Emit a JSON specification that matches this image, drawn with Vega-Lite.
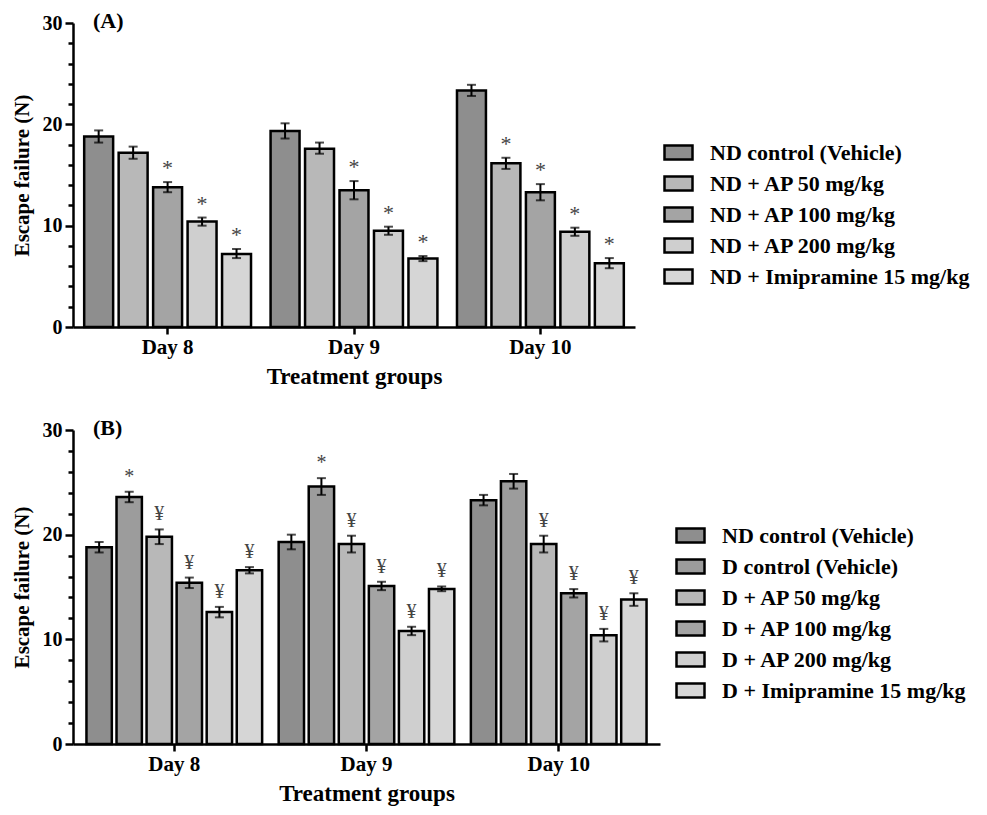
{
  "$schema": "https://vega.github.io/schema/vega-lite/v6.json",
  "background": "white",
  "padding": {"left": 11, "top": 10, "right": 5, "bottom": 5},
  "config": {
    "font": "Liberation Serif",
    "view": {"stroke": null},
    "axis": {
      "labelFont": "Liberation Serif", "titleFont": "Liberation Serif",
      "labelFontWeight": "bold", "titleFontWeight": "bold",
      "labelColor": "black", "titleColor": "black",
      "domainColor": "black", "tickColor": "black",
      "domainWidth": 2.5, "tickWidth": 2.5, "grid": false, "labelOverlap": false
    },
    "axisY": {"labelFontSize": 20, "titleFontSize": 21, "labelPadding": 3, "titlePadding": 10, "labelOverlap": false},
    "legend": {
      "labelFont": "Liberation Serif", "labelFontWeight": "bold", "labelFontSize": 22,
      "labelColor": "black", "labelLimit": 400,
      "symbolType": "M-1,-0.5H1V0.5H-1Z", "symbolSize": 784,
      "symbolStrokeColor": "black", "symbolStrokeWidth": 2.5,
      "rowPadding": 3, "labelOffset": 16, "padding": 0, "title": null
    },
    "title": {"font": "Liberation Serif", "fontWeight": "bold", "fontSize": 22, "color": "black", "anchor": "start", "frame": "group"}
  },
  "spacing": 29,
  "resolve": {"scale": {"fill": "independent", "xOffset": "independent", "x": "independent", "y": "independent"}, "legend": {"fill": "independent"}},
  "vconcat": [
    {
      "width": 562, "height": 304,
      "title": {"text": "(A)", "offset": -20, "dx": 20},
      "data": {"values": [
        {"day": "Day 8", "group": "ND control (Vehicle)", "mean": 18.8, "lo": 18.2, "hi": 19.4, "sig": ""},
        {"day": "Day 8", "group": "ND + AP 50 mg/kg", "mean": 17.2, "lo": 16.6, "hi": 17.8, "sig": ""},
        {"day": "Day 8", "group": "ND + AP 100 mg/kg", "mean": 13.8, "lo": 13.3, "hi": 14.3, "sig": "*"},
        {"day": "Day 8", "group": "ND + AP 200 mg/kg", "mean": 10.4, "lo": 10.0, "hi": 10.8, "sig": "*"},
        {"day": "Day 8", "group": "ND + Imipramine 15 mg/kg", "mean": 7.2, "lo": 6.8, "hi": 7.7, "sig": "*"},
        {"day": "Day 9", "group": "ND control (Vehicle)", "mean": 19.35, "lo": 18.6, "hi": 20.1, "sig": ""},
        {"day": "Day 9", "group": "ND + AP 50 mg/kg", "mean": 17.6, "lo": 17.1, "hi": 18.2, "sig": ""},
        {"day": "Day 9", "group": "ND + AP 100 mg/kg", "mean": 13.5, "lo": 12.6, "hi": 14.4, "sig": "*"},
        {"day": "Day 9", "group": "ND + AP 200 mg/kg", "mean": 9.5, "lo": 9.1, "hi": 9.9, "sig": "*"},
        {"day": "Day 9", "group": "ND + Imipramine 15 mg/kg", "mean": 6.75, "lo": 6.5, "hi": 7.0, "sig": "*"},
        {"day": "Day 10", "group": "ND control (Vehicle)", "mean": 23.35, "lo": 22.8, "hi": 23.9, "sig": ""},
        {"day": "Day 10", "group": "ND + AP 50 mg/kg", "mean": 16.15, "lo": 15.6, "hi": 16.7, "sig": "*"},
        {"day": "Day 10", "group": "ND + AP 100 mg/kg", "mean": 13.3, "lo": 12.5, "hi": 14.1, "sig": "*"},
        {"day": "Day 10", "group": "ND + AP 200 mg/kg", "mean": 9.4, "lo": 9.0, "hi": 9.8, "sig": "*"},
        {"day": "Day 10", "group": "ND + Imipramine 15 mg/kg", "mean": 6.3, "lo": 5.8, "hi": 6.8, "sig": "*"}
      ]},
      "encoding": {
        "x": {"field": "day", "type": "nominal", "sort": ["Day 8", "Day 9", "Day 10"],
          "scale": {"paddingInner": 0.105, "paddingOuter": 0.06},
          "axis": {"labelAngle": 0, "labelFontSize": 21, "titleFontSize": 23, "tickSize": 7, "labelPadding": 2, "titlePadding": 8},
          "title": "Treatment groups"},
        "xOffset": {"field": "group", "type": "nominal",
          "sort": ["ND control (Vehicle)", "ND + AP 50 mg/kg", "ND + AP 100 mg/kg", "ND + AP 200 mg/kg", "ND + Imipramine 15 mg/kg"],
          "scale": {"paddingInner": 0.16, "paddingOuter": 0}}
      },
      "layer": [
        {
          "mark": {"type": "bar", "stroke": "black", "strokeWidth": 2.5},
          "encoding": {
            "y": {"field": "mean", "type": "quantitative", "scale": {"domain": [0, 30], "nice": false},
              "title": "Escape failure (N)",
              "axis": {"values": [0,2,4,6,8,10,12,14,16,18,20,22,24,26,28,30], "labelOverlap": false,
                "labelExpr": "datum.value % 10 === 0 ? datum.label : ''",
                "tickSize": {"condition": {"test": "datum.value % 10 === 0", "value": 8}, "value": 5}}},
            "fill": {"field": "group", "type": "nominal",
              "sort": ["ND control (Vehicle)", "ND + AP 50 mg/kg", "ND + AP 100 mg/kg", "ND + AP 200 mg/kg", "ND + Imipramine 15 mg/kg"],
              "scale": {"domain": ["ND control (Vehicle)", "ND + AP 50 mg/kg", "ND + AP 100 mg/kg", "ND + AP 200 mg/kg", "ND + Imipramine 15 mg/kg"],
                "range": ["#8e8e8e", "#b8b8b8", "#a4a4a4", "#cfcfcf", "#d6d6d6"]},
              "legend": {"orient": "none", "legendX": 590, "legendY": 114}}
          }
        },
        {
          "mark": {"type": "rule", "color": "black", "strokeWidth": 2},
          "encoding": {"y": {"field": "lo", "type": "quantitative", "title": "Escape failure (N)",
              "axis": {"values": [0,2,4,6,8,10,12,14,16,18,20,22,24,26,28,30], "labelOverlap": false,
                "labelExpr": "datum.value % 10 === 0 ? datum.label : ''",
                "tickSize": {"condition": {"test": "datum.value % 10 === 0", "value": 8}, "value": 5}}},
            "y2": {"field": "hi"}}
        },
        {
          "mark": {"type": "tick", "orient": "horizontal", "color": "black", "size": 9, "thickness": 2},
          "encoding": {"y": {"field": "hi", "type": "quantitative", "title": "Escape failure (N)",
              "axis": {"values": [0,2,4,6,8,10,12,14,16,18,20,22,24,26,28,30], "labelOverlap": false,
                "labelExpr": "datum.value % 10 === 0 ? datum.label : ''",
                "tickSize": {"condition": {"test": "datum.value % 10 === 0", "value": 8}, "value": 5}}}}
        },
        {
          "mark": {"type": "tick", "orient": "horizontal", "color": "black", "size": 9, "thickness": 2},
          "encoding": {"y": {"field": "lo", "type": "quantitative", "title": "Escape failure (N)",
              "axis": {"values": [0,2,4,6,8,10,12,14,16,18,20,22,24,26,28,30], "labelOverlap": false,
                "labelExpr": "datum.value % 10 === 0 ? datum.label : ''",
                "tickSize": {"condition": {"test": "datum.value % 10 === 0", "value": 8}, "value": 5}}}}
        },
        {
          "transform": [{"filter": "datum.sig !== ''"}],
          "mark": {"type": "text", "dy": -14, "baseline": "middle", "fontSize": 22, "color": "#444444"},
          "encoding": {"y": {"field": "hi", "type": "quantitative", "title": "Escape failure (N)",
              "axis": {"values": [0,2,4,6,8,10,12,14,16,18,20,22,24,26,28,30], "labelOverlap": false,
                "labelExpr": "datum.value % 10 === 0 ? datum.label : ''",
                "tickSize": {"condition": {"test": "datum.value % 10 === 0", "value": 8}, "value": 5}}},
            "text": {"field": "sig"}}
        }
      ]
    },
    {
      "width": 587, "height": 314,
      "title": {"text": "(B)", "offset": -20, "dx": 20},
      "data": {"values": [
        {"day": "Day 8", "group": "ND control (Vehicle)", "mean": 18.8, "lo": 18.3, "hi": 19.3, "sig": ""},
        {"day": "Day 8", "group": "D control (Vehicle)", "mean": 23.6, "lo": 23.1, "hi": 24.1, "sig": "*"},
        {"day": "Day 8", "group": "D + AP 50 mg/kg", "mean": 19.8, "lo": 19.1, "hi": 20.5, "sig": "¥"},
        {"day": "Day 8", "group": "D + AP 100 mg/kg", "mean": 15.4, "lo": 14.9, "hi": 15.9, "sig": "¥"},
        {"day": "Day 8", "group": "D + AP 200 mg/kg", "mean": 12.6, "lo": 12.1, "hi": 13.1, "sig": "¥"},
        {"day": "Day 8", "group": "D + Imipramine 15 mg/kg", "mean": 16.6, "lo": 16.3, "hi": 16.9, "sig": "¥"},
        {"day": "Day 9", "group": "ND control (Vehicle)", "mean": 19.3, "lo": 18.6, "hi": 20.0, "sig": ""},
        {"day": "Day 9", "group": "D control (Vehicle)", "mean": 24.6, "lo": 23.8, "hi": 25.4, "sig": "*"},
        {"day": "Day 9", "group": "D + AP 50 mg/kg", "mean": 19.1, "lo": 18.3, "hi": 19.9, "sig": "¥"},
        {"day": "Day 9", "group": "D + AP 100 mg/kg", "mean": 15.1, "lo": 14.7, "hi": 15.5, "sig": "¥"},
        {"day": "Day 9", "group": "D + AP 200 mg/kg", "mean": 10.8, "lo": 10.4, "hi": 11.2, "sig": "¥"},
        {"day": "Day 9", "group": "D + Imipramine 15 mg/kg", "mean": 14.8, "lo": 14.6, "hi": 15.05, "sig": "¥"},
        {"day": "Day 10", "group": "ND control (Vehicle)", "mean": 23.3, "lo": 22.8, "hi": 23.8, "sig": ""},
        {"day": "Day 10", "group": "D control (Vehicle)", "mean": 25.1, "lo": 24.4, "hi": 25.8, "sig": ""},
        {"day": "Day 10", "group": "D + AP 50 mg/kg", "mean": 19.1, "lo": 18.3, "hi": 19.9, "sig": "¥"},
        {"day": "Day 10", "group": "D + AP 100 mg/kg", "mean": 14.4, "lo": 14.0, "hi": 14.8, "sig": "¥"},
        {"day": "Day 10", "group": "D + AP 200 mg/kg", "mean": 10.4, "lo": 9.8, "hi": 11.0, "sig": "¥"},
        {"day": "Day 10", "group": "D + Imipramine 15 mg/kg", "mean": 13.8, "lo": 13.2, "hi": 14.4, "sig": "¥"}
      ]},
      "encoding": {
        "x": {"field": "day", "type": "nominal", "sort": ["Day 8", "Day 9", "Day 10"],
          "scale": {"paddingInner": 0.086, "paddingOuter": 0.07},
          "axis": {"labelAngle": 0, "labelFontSize": 21, "titleFontSize": 23, "tickSize": 7, "labelPadding": 2, "titlePadding": 8},
          "title": "Treatment groups"},
        "xOffset": {"field": "group", "type": "nominal",
          "sort": ["ND control (Vehicle)", "D control (Vehicle)", "D + AP 50 mg/kg", "D + AP 100 mg/kg", "D + AP 200 mg/kg", "D + Imipramine 15 mg/kg"],
          "scale": {"paddingInner": 0.156, "paddingOuter": 0}}
      },
      "layer": [
        {
          "mark": {"type": "bar", "stroke": "black", "strokeWidth": 2.5},
          "encoding": {
            "y": {"field": "mean", "type": "quantitative", "scale": {"domain": [0, 30], "nice": false},
              "title": "Escape failure (N)",
              "axis": {"values": [0,2,4,6,8,10,12,14,16,18,20,22,24,26,28,30], "labelOverlap": false,
                "labelExpr": "datum.value % 10 === 0 ? datum.label : ''",
                "tickSize": {"condition": {"test": "datum.value % 10 === 0", "value": 8}, "value": 5}}},
            "fill": {"field": "group", "type": "nominal",
              "sort": ["ND control (Vehicle)", "D control (Vehicle)", "D + AP 50 mg/kg", "D + AP 100 mg/kg", "D + AP 200 mg/kg", "D + Imipramine 15 mg/kg"],
              "scale": {"domain": ["ND control (Vehicle)", "D control (Vehicle)", "D + AP 50 mg/kg", "D + AP 100 mg/kg", "D + AP 200 mg/kg", "D + Imipramine 15 mg/kg"],
                "range": ["#8e8e8e", "#9c9c9c", "#b8b8b8", "#a4a4a4", "#cfcfcf", "#d6d6d6"]},
              "legend": {"orient": "none", "legendX": 602, "legendY": 90}}
          }
        },
        {
          "mark": {"type": "rule", "color": "black", "strokeWidth": 2},
          "encoding": {"y": {"field": "lo", "type": "quantitative", "title": "Escape failure (N)",
              "axis": {"values": [0,2,4,6,8,10,12,14,16,18,20,22,24,26,28,30], "labelOverlap": false,
                "labelExpr": "datum.value % 10 === 0 ? datum.label : ''",
                "tickSize": {"condition": {"test": "datum.value % 10 === 0", "value": 8}, "value": 5}}},
            "y2": {"field": "hi"}}
        },
        {
          "mark": {"type": "tick", "orient": "horizontal", "color": "black", "size": 9, "thickness": 2},
          "encoding": {"y": {"field": "hi", "type": "quantitative", "title": "Escape failure (N)",
              "axis": {"values": [0,2,4,6,8,10,12,14,16,18,20,22,24,26,28,30], "labelOverlap": false,
                "labelExpr": "datum.value % 10 === 0 ? datum.label : ''",
                "tickSize": {"condition": {"test": "datum.value % 10 === 0", "value": 8}, "value": 5}}}}
        },
        {
          "mark": {"type": "tick", "orient": "horizontal", "color": "black", "size": 9, "thickness": 2},
          "encoding": {"y": {"field": "lo", "type": "quantitative", "title": "Escape failure (N)",
              "axis": {"values": [0,2,4,6,8,10,12,14,16,18,20,22,24,26,28,30], "labelOverlap": false,
                "labelExpr": "datum.value % 10 === 0 ? datum.label : ''",
                "tickSize": {"condition": {"test": "datum.value % 10 === 0", "value": 8}, "value": 5}}}}
        },
        {
          "transform": [{"filter": "datum.sig !== ''"}],
          "mark": {"type": "text", "dy": -15, "baseline": "middle", "fontSize": 20, "color": "#444444"},
          "encoding": {"y": {"field": "hi", "type": "quantitative", "title": "Escape failure (N)",
              "axis": {"values": [0,2,4,6,8,10,12,14,16,18,20,22,24,26,28,30], "labelOverlap": false,
                "labelExpr": "datum.value % 10 === 0 ? datum.label : ''",
                "tickSize": {"condition": {"test": "datum.value % 10 === 0", "value": 8}, "value": 5}}},
            "text": {"field": "sig"}}
        }
      ]
    }
  ]
}
